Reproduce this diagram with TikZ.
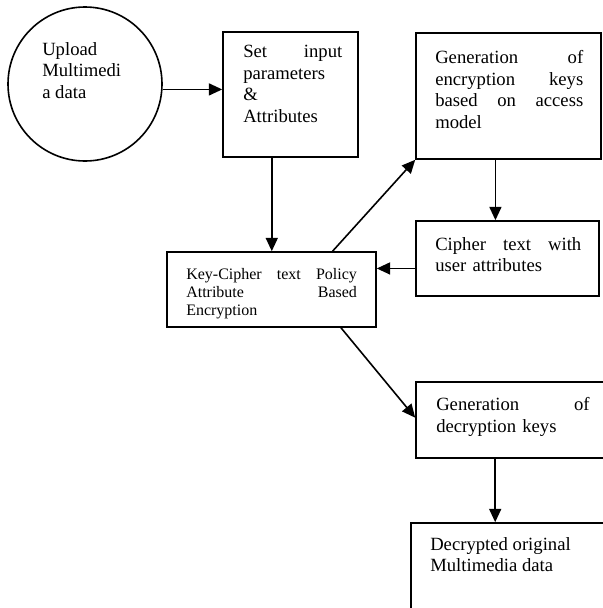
\documentclass[tikz,border=0pt]{standalone}
\usepackage{fontspec}
\setmainfont{Liberation Serif}
\usetikzlibrary{arrows.meta,fit,calc}
\begin{document}
\begin{tikzpicture}[x=0.75pt,y=-0.75pt,
  box/.style={draw,line width=1.2pt,inner sep=0pt,rectangle},
  arr/.style={draw,line width=1.2pt,-{Triangle[length=10pt,width=9pt]}},
  txt/.style={anchor=north west,inner sep=0pt,align=left,font=\fontsize{14}{16.2}\selectfont},
  stxt/.style={anchor=north west,inner sep=0pt,align=left,font=\fontsize{12}{13.5}\selectfont}]
\useasboundingbox (0,0) rectangle (603,608);
\clip (0,0) rectangle (603,608);
% shapes
\node[draw,circle,line width=1.2pt,inner sep=0pt,minimum size=115.5pt] (c) at (85,84) {};
\node[box,fit={(223,32) (358,157)}] (b1) {};
\node[box,fit={(416,33) (601,159)}] (b2) {};
\node[box,fit={(416,221) (599,296)}] (b3) {};
\node[box,fit={(167,252) (376,327)}] (b4) {};
\node[box,fit={(416,382) (640,458)}] (b5) {};
\node[box,fit={(411,523) (640,660)}] (b6) {};
% texts
\node[txt] (tc) at (42,42) {Upload\\Multimedi\\a data};
\node[txt,text width=74.25pt] (t1) at (243,45) {Set\hfill input\\parameters\\\&\\Attributes};
\node[txt,text width=111pt] (t2) at (435,50) {Generation\hfill of\\encryption\hfill keys\\based\hfill on\hfill access\\model};
\node[txt,text width=109.5pt] (t3) at (435,237) {Cipher\hfill text\hfill with\\user attributes};
\node[stxt,text width=128pt] (t4) at (186,268) {Key-Cipher\hfill text\hfill Policy\\Attribute\hfill Based\\Encryption};
\node[txt,text width=115pt] (t5) at (436,397) {Generation\hfill of\\decryption keys};
\node[txt] (t6) at (430,537) {Decrypted original\\Multimedia data};
% connectors
\draw[arr] (c.-4) -- (b1.west |- c.-4);
\draw[arr] ($(b1.south west)!0.363!(b1.south east)$) coordinate (p1) -- (p1 |- b4.north);
\draw[arr] ($(b4.north west)!0.79!(b4.north east)$) -- (b2.south west);
\draw[arr] ($(b2.south west)!0.43!(b2.south east)$) coordinate (p2) -- (p2 |- b3.north);
\draw[arr] ($(b3.north west)!0.63!(b3.south west)$) coordinate (p3) -- (b4.east |- p3);
\draw[arr] ($(b4.south west)!0.83!(b4.south east)$) -- ($(b5.north west)!0.47!(b5.south west)$);
\draw[arr] ($(b5.south west)+(80,0)$) coordinate (p4) -- (p4 |- b6.north);
\end{tikzpicture}
\end{document}
